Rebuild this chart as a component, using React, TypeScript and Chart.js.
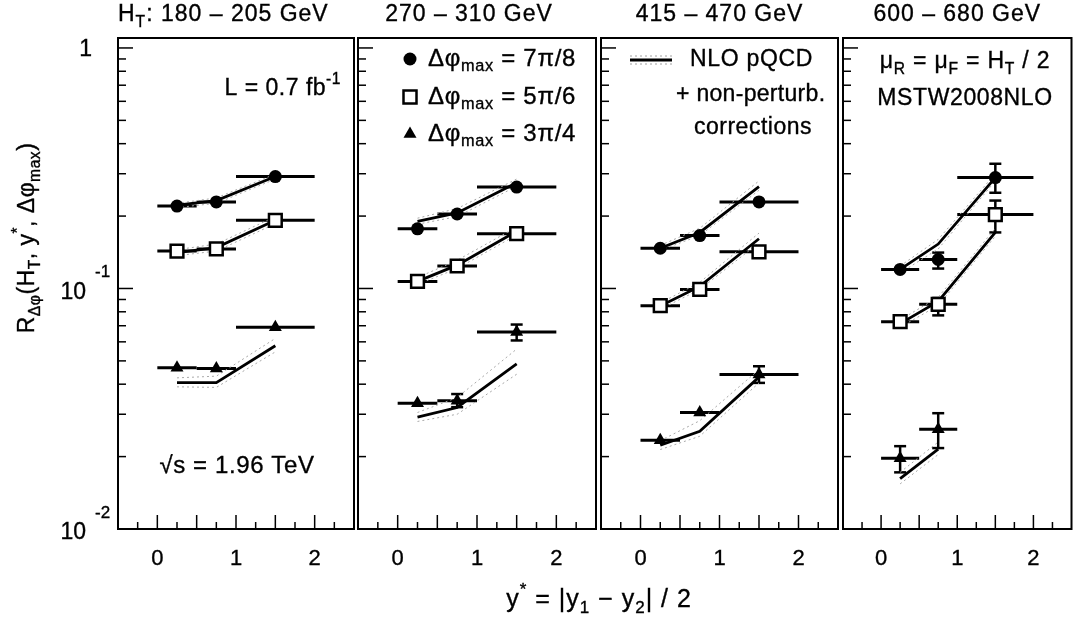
import React, { useEffect, useRef } from 'react';
import { Chart, registerables } from 'chart.js';

Chart.register(...registerables);

const CANVAS_W = 1083;
const CANVAS_H = 625;
const FONT_FAMILY = '"Liberation Sans", Arial, Helvetica, sans-serif';

// ---------- axes / categories ----------
const binCenters = [0.25, 0.75, 1.5];
const binLow = [0, 0.5, 1];
const binHigh = [0.5, 1, 2];
const xTickValues = [0, 1, 2];
const yTickValues = [1, 0.1, 0.01];
const yTickExponents = ['', '-1', '-2'];
const htBins = ['180 – 205 GeV', '270 – 310 GeV', '415 – 470 GeV', '600 – 680 GeV'];

// ---------- panel 1 : HT 180-205 ----------
const p1Circle = [0.220, 0.229, 0.292];
const p1Square = [0.143, 0.146, 0.192];
const p1Triangle = [0.0468, 0.0465, 0.069];
const p1NloCircle = [0.222, 0.232, 0.292];
const p1NloCircleHi = [0.226, 0.238, 0.299];
const p1NloCircleLo = [0.217, 0.226, 0.285];
const p1NloSquare = [0.141, 0.148, 0.192];
const p1NloSquareHi = [0.145, 0.153, 0.199];
const p1NloSquareLo = [0.137, 0.143, 0.186];
const p1NloTriangle = [0.0406, 0.0406, 0.0578];
const p1NloTriangleHi = [0.0425, 0.0432, 0.062];
const p1NloTriangleLo = [0.039, 0.0388, 0.0545];

// ---------- panel 2 : HT 270-310 ----------
const p2Circle = [0.177, 0.204, 0.264];
const p2Square = [0.107, 0.124, 0.169];
const p2Triangle = [0.0333, 0.0341, 0.0659];
const p2TriangleErrUp = [0, 0.0023, 0.0049];
const p2TriangleErrDn = [0, 0.002, 0.0051];
const p2NloCircle = [0.190, 0.206, 0.275];
const p2NloCircleHi = [0.196, 0.215, 0.285];
const p2NloCircleLo = [0.185, 0.199, 0.266];
const p2NloSquare = [0.107, 0.125, 0.173];
const p2NloSquareHi = [0.111, 0.131, 0.18];
const p2NloSquareLo = [0.104, 0.121, 0.167];
const p2NloTriangle = [0.0292, 0.032, 0.0486];
const p2NloTriangleHi = [0.0305, 0.0352, 0.056];
const p2NloTriangleLo = [0.028, 0.03, 0.044];

// ---------- panel 3 : HT 415-470 ----------
const p3Circle = [0.147, 0.166, 0.229];
const p3Square = [0.0848, 0.0991, 0.142];
const p3Triangle = [0.0234, 0.0305, 0.0439];
const p3TriangleErrUp = [0, 0, 0.0036];
const p3TriangleErrDn = [0, 0, 0.0034];
const p3NloCircle = [0.147, 0.171, 0.265];
const p3NloCircleHi = [0.151, 0.178, 0.28];
const p3NloCircleLo = [0.144, 0.166, 0.256];
const p3NloSquare = [0.0845, 0.102, 0.161];
const p3NloSquareHi = [0.087, 0.106, 0.17];
const p3NloSquareLo = [0.082, 0.099, 0.155];
const p3NloTriangle = [0.0223, 0.0255, 0.0428];
const p3NloTriangleHi = [0.0233, 0.0282, 0.046];
const p3NloTriangleLo = [0.0214, 0.0243, 0.0405];

// ---------- panel 4 : HT 600-680 ----------
const p4Circle = [0.120, 0.132, 0.289];
const p4CircleErrUp = [0.002, 0.009, 0.041];
const p4CircleErrDn = [0.002, 0.011, 0.039];
const p4Square = [0.0728, 0.0859, 0.203];
const p4SquareErrUp = [0.0015, 0.0054, 0.029];
const p4SquareErrDn = [0.0015, 0.0086, 0.032];
const p4Triangle = [0.0197, 0.026];
const p4TriangleErrUp = [0.0024, 0.0043];
const p4TriangleErrDn = [0.0025, 0.0043];
const p4NloCircle = [0.120, 0.153, 0.289];
const p4NloCircleHi = [0.124, 0.16, 0.3];
const p4NloCircleLo = [0.116, 0.146, 0.28];
const p4NloSquare = [0.0714, 0.0884, 0.171];
const p4NloSquareHi = [0.074, 0.092, 0.178];
const p4NloSquareLo = [0.069, 0.085, 0.165];
const p4NloTriangle = [0.0162, 0.0215];
const p4NloTriangleHi = [0.0172, 0.023];
const p4NloTriangleLo = [0.0154, 0.0204];

// ---------- layout ----------
const frameLeft = [118, 358, 601, 843];
const frameRight = [354, 596, 838, 1080];
const frameTop = 38;
const frameBottom = 529;

type Series = {
  style: 'circle' | 'rect' | 'triangle';
  values: number[];
  errUp?: number[];
  errDn?: number[];
  nlo: number[];
  nloHi: number[];
  nloLo: number[];
};

const panels: Series[][] = [
  [
    { style: 'circle', values: p1Circle, nlo: p1NloCircle, nloHi: p1NloCircleHi, nloLo: p1NloCircleLo },
    { style: 'rect', values: p1Square, nlo: p1NloSquare, nloHi: p1NloSquareHi, nloLo: p1NloSquareLo },
    { style: 'triangle', values: p1Triangle, nlo: p1NloTriangle, nloHi: p1NloTriangleHi, nloLo: p1NloTriangleLo },
  ],
  [
    { style: 'circle', values: p2Circle, nlo: p2NloCircle, nloHi: p2NloCircleHi, nloLo: p2NloCircleLo },
    { style: 'rect', values: p2Square, nlo: p2NloSquare, nloHi: p2NloSquareHi, nloLo: p2NloSquareLo },
    { style: 'triangle', values: p2Triangle, errUp: p2TriangleErrUp, errDn: p2TriangleErrDn, nlo: p2NloTriangle, nloHi: p2NloTriangleHi, nloLo: p2NloTriangleLo },
  ],
  [
    { style: 'circle', values: p3Circle, nlo: p3NloCircle, nloHi: p3NloCircleHi, nloLo: p3NloCircleLo },
    { style: 'rect', values: p3Square, nlo: p3NloSquare, nloHi: p3NloSquareHi, nloLo: p3NloSquareLo },
    { style: 'triangle', values: p3Triangle, errUp: p3TriangleErrUp, errDn: p3TriangleErrDn, nlo: p3NloTriangle, nloHi: p3NloTriangleHi, nloLo: p3NloTriangleLo },
  ],
  [
    { style: 'circle', values: p4Circle, errUp: p4CircleErrUp, errDn: p4CircleErrDn, nlo: p4NloCircle, nloHi: p4NloCircleHi, nloLo: p4NloCircleLo },
    { style: 'rect', values: p4Square, errUp: p4SquareErrUp, errDn: p4SquareErrDn, nlo: p4NloSquare, nloHi: p4NloSquareHi, nloLo: p4NloSquareLo },
    { style: 'triangle', values: p4Triangle, errUp: p4TriangleErrUp, errDn: p4TriangleErrDn, nlo: p4NloTriangle, nloHi: p4NloTriangleHi, nloLo: p4NloTriangleLo },
  ],
];

// ---------- text helpers ----------
type Part = [string, number]; // 0 normal, 1 subscript, 2 superscript

function setFont(ctx: CanvasRenderingContext2D, size: number) {
  ctx.font = `${size}px ${FONT_FAMILY}`;
}

function drawRich(ctx: CanvasRenderingContext2D, parts: Part[], x: number, y: number, size: number, align: 'left' | 'center' | 'right', spacing = 0.5) {
  ctx.save();
  (ctx as any).letterSpacing = spacing + 'px';
  ctx.textBaseline = 'middle';
  ctx.textAlign = 'left';
  ctx.fillStyle = '#000';
  ctx.strokeStyle = '#000';
  ctx.lineWidth = 0.35;
  const small = size * 0.68;
  const widths = parts.map(([t, m]) => {
    setFont(ctx, m ? small : size);
    return ctx.measureText(t).width;
  });
  const total = widths.reduce((a, b) => a + b, 0);
  let cx = align === 'left' ? x : align === 'center' ? x - total / 2 : x - total;
  parts.forEach(([t, m], i) => {
    setFont(ctx, m ? small : size);
    const dy = m === 1 ? size * 0.32 : m === 2 ? -size * 0.4 : 0;
    ctx.fillText(t, cx, y + dy);
    ctx.strokeText(t, cx, y + dy);
    cx += widths[i];
  });
  ctx.restore();
}

function markerPath(ctx: CanvasRenderingContext2D, style: string, x: number, y: number) {
  ctx.save();
  ctx.fillStyle = '#000';
  ctx.strokeStyle = '#000';
  if (style === 'circle') {
    ctx.beginPath();
    ctx.arc(x, y, 6.5, 0, Math.PI * 2);
    ctx.fill();
  } else if (style === 'rect') {
    ctx.lineWidth = 2.5;
    ctx.fillStyle = '#fff';
    ctx.fillRect(x - 6.5, y - 6.5, 13, 13);
    ctx.strokeRect(x - 6.5, y - 6.5, 13, 13);
  } else {
    ctx.beginPath();
    ctx.moveTo(x, y - 7.5);
    ctx.lineTo(x + 6.5, y + 3.75);
    ctx.lineTo(x - 6.5, y + 3.75);
    ctx.closePath();
    ctx.fill();
  }
  ctx.restore();
}

function line(ctx: CanvasRenderingContext2D, x1: number, y1: number, x2: number, y2: number) {
  ctx.beginPath();
  ctx.moveTo(x1, y1);
  ctx.lineTo(x2, y2);
  ctx.stroke();
}

// ---------- plugins ----------
const errorBarPlugin = {
  id: 'errorBars',
  beforeDatasetsDraw(chart: any) {
    const ctx: CanvasRenderingContext2D = chart.ctx;
    const xs = chart.scales.x;
    const ys = chart.scales.y;
    ctx.save();
    ctx.strokeStyle = '#000';
    ctx.lineWidth = 3;
    chart.data.datasets.forEach((ds: any) => {
      if (!ds.xLo) return;
      ds.data.forEach((pt: any, i: number) => {
        const y = ys.getPixelForValue(pt.y);
        line(ctx, xs.getPixelForValue(ds.xLo[i]), y, xs.getPixelForValue(ds.xHi[i]), y);
        const up = ds.errUp ? ds.errUp[i] : 0;
        const dn = ds.errDn ? ds.errDn[i] : 0;
        if (up || dn) {
          const x = xs.getPixelForValue(pt.x);
          const yt = ys.getPixelForValue(pt.y + up);
          const yb = ys.getPixelForValue(pt.y - dn);
          ctx.lineWidth = 2.5;
          line(ctx, x, yt, x, yb);
          if (y - yt > 5) line(ctx, x - 6, yt, x + 6, yt);
          if (yb - y > 5) line(ctx, x - 6, yb, x + 6, yb);
          ctx.lineWidth = 3;
        }
      });
    });
    ctx.restore();
  },
};

const TXT = 23;

function makeDecor(pi: number) {
  return {
    id: 'decor' + pi,
    afterDraw(chart: any) {
      const ctx: CanvasRenderingContext2D = chart.ctx;
      const { left, right, top, bottom } = chart.chartArea;
      const xs = chart.scales.x;
      const ys = chart.scales.y;
      ctx.save();
      ctx.strokeStyle = '#000';
      ctx.lineWidth = 1.5;
      // y ticks (inside, left)
      for (let d = -2; d <= 0; d++) {
        for (let m = 1; m <= 9; m++) {
          const v = m * Math.pow(10, d);
          if (v > ys.max) continue;
          const y = ys.getPixelForValue(v);
          line(ctx, left, y, left + (m === 1 ? 15 : 8), y);
        }
      }
      // x ticks (inside, bottom)
      for (let k = -1; k <= 9; k++) {
        const v = k * 0.25;
        const x = xs.getPixelForValue(v);
        line(ctx, x, bottom, x, bottom - (k % 2 === 0 ? 14 : 7));
      }
      // frame
      ctx.lineWidth = 2;
      ctx.strokeRect(left, top, right - left, bottom - top);
      ctx.restore();

      // x tick labels
      xTickValues.forEach((v) => {
        drawRich(ctx, [[String(v), 0]], xs.getPixelForValue(v), 559, 22, 'center', 0);
      });

      // panel title
      if (pi === 0) {
        drawRich(ctx, [['H', 0], ['T', 1], [': ' + htBins[0], 0]], left, 15, 23, 'left', 1);
      } else {
        drawRich(ctx, [[htBins[pi], 0]], (left + right) / 2 - (pi === 1 ? 8 : 0), 15, 23, 'center', 1);
      }

      if (pi === 0) {
        // y tick labels
        yTickValues.forEach((v, i) => {
          const y = ys.getPixelForValue(v) + 2;
          if (!yTickExponents[i]) {
            drawRich(ctx, [['1', 0]], 92, y, 23, 'right', 0);
          } else {
            drawRich(ctx, [['10', 0]], 86, y + 2, 23, 'right', 0);
            drawRich(ctx, [[yTickExponents[i], 0]], 95, y - 18, 17, 'left', 0);
          }
        });
        // y title
        ctx.save();
        ctx.translate(28, 238);
        ctx.rotate(-Math.PI / 2);
        drawRich(ctx, [['R', 0], ['Δφ', 1], ['(H', 0], ['T', 1], [', y', 0], ['*', 2], [', Δφ', 0], ['max', 1], [')', 0]], 0, 0, 23, 'center', 0.5);
        ctx.restore();
        // x title
        drawRich(ctx, [['y', 0], ['*', 2], [' = |y', 0], ['1', 1], [' − y', 0], ['2', 1], ['| / 2', 0]], 599, 600, 25, 'center', 1);
        // annotations
        drawRich(ctx, [['L = 0.7 fb', 0], ['-1', 2]], 341, 89, TXT, 'right', 0.5);
        drawRich(ctx, [['√s = 1.96 TeV', 0]], 237, 466, 24, 'center', 0.6);
      }
      if (pi === 1) {
        const rows: [string, string, number][] = [
          ['circle', '7π/8', 59],
          ['rect', '5π/6', 97],
          ['triangle', '3π/4', 134],
        ];
        rows.forEach(([st, lab, y]) => {
          markerPath(ctx, st, 410, y);
          drawRich(ctx, [['Δφ', 0], ['max', 1], [' = ' + lab, 0]], 428, y, 24, 'left', 0.7);
        });
      }
      if (pi === 2) {
        ctx.save();
        ctx.strokeStyle = '#000';
        ctx.lineWidth = 3;
        line(ctx, 630, 60, 672, 60);
        ctx.strokeStyle = '#a0a0a0';
        ctx.lineWidth = 1;
        ctx.setLineDash([2, 3]);
        line(ctx, 630, 56, 672, 56);
        line(ctx, 630, 64, 672, 64);
        ctx.restore();
        drawRich(ctx, [['NLO pQCD', 0]], 690, 60, TXT, 'left', 0.7);
        drawRich(ctx, [['+ non-perturb.', 0]], 676, 95, TXT, 'left', 0.3);
        drawRich(ctx, [['corrections', 0]], 694, 128, TXT, 'left', 0.5);
      }
      if (pi === 3) {
        drawRich(ctx, [['μ', 0], ['R', 1], [' = μ', 0], ['F', 1], [' = H', 0], ['T', 1], [' / 2', 0]], 965, 62, TXT, 'center', 0.8);
        drawRich(ctx, [['MSTW2008NLO', 0]], 965, 99, TXT, 'center', 0.6);
      }
    },
  };
}

function buildConfig(series: Series[], pi: number): any {
  const datasets: any[] = [];
  series.forEach((s) => {
    const xs = binCenters.slice(0, s.values.length);
    datasets.push({
      data: xs.map((x, i) => ({ x, y: s.nloHi[i] })),
      showLine: true, borderColor: '#a8a8a8', borderWidth: 1, borderDash: [2, 3], pointRadius: 0, order: 3,
    });
    datasets.push({
      data: xs.map((x, i) => ({ x, y: s.nloLo[i] })),
      showLine: true, borderColor: '#a8a8a8', borderWidth: 1, borderDash: [2, 3], pointRadius: 0, order: 3,
    });
    datasets.push({
      data: xs.map((x, i) => ({ x, y: s.nlo[i] })),
      showLine: true, borderColor: '#000', borderWidth: 2.8, pointRadius: 0, order: 2,
    });
    datasets.push({
      data: xs.map((x, i) => ({ x, y: s.values[i] })),
      showLine: false,
      pointStyle: s.style,
      pointRadius: s.style === 'circle' ? 6.5 : s.style === 'rect' ? 9 : 7.5,
      backgroundColor: s.style === 'rect' ? '#fff' : '#000',
      borderColor: '#000',
      borderWidth: s.style === 'rect' ? 2.5 : 0,
      order: 0,
      xLo: binLow,
      xHi: binHigh,
      errUp: s.errUp,
      errDn: s.errDn,
    });
  });
  return {
    type: 'scatter',
    data: { datasets },
    options: {
      responsive: false,
      animation: false,
      events: [],
      layout: {
        padding: {
          left: frameLeft[pi],
          right: CANVAS_W - frameRight[pi],
          top: frameTop,
          bottom: CANVAS_H - frameBottom,
        },
      },
      scales: {
        x: { type: 'linear', min: -0.5, max: 2.5, display: false },
        y: { type: 'logarithmic', min: 0.01, max: 1.1, display: false },
      },
      plugins: { legend: { display: false }, tooltip: { enabled: false } },
    },
    plugins: [errorBarPlugin, makeDecor(pi)],
  };
}

export default function App() {
  const canvases = useRef<(HTMLCanvasElement | null)[]>([]);
  useEffect(() => {
    document.body.style.margin = '0';
    const charts = panels.map((s, i) => new Chart(canvases.current[i] as HTMLCanvasElement, buildConfig(s, i)));
    return () => charts.forEach((c) => c.destroy());
  }, []);
  return (
    <div style={{ position: 'absolute', left: 0, top: 0, width: CANVAS_W, height: CANVAS_H, background: '#fff' }}>
      {panels.map((_, i) => (
        <canvas
          key={i}
          ref={(el) => { canvases.current[i] = el; }}
          width={CANVAS_W}
          height={CANVAS_H}
          style={{ position: 'absolute', left: 0, top: 0 }}
        />
      ))}
    </div>
  );
}
